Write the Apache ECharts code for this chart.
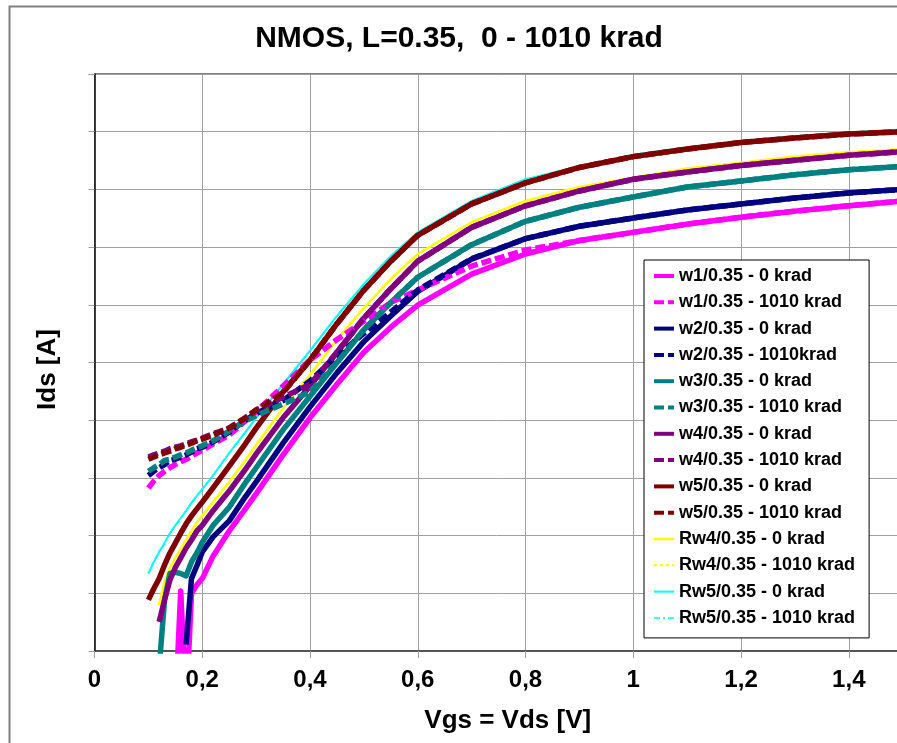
<!DOCTYPE html>
<html>
<head>
<meta charset="utf-8">
<title>NMOS, L=0.35, 0 - 1010 krad</title>
<script src="https://cdn.jsdelivr.net/npm/echarts@6/dist/echarts.min.js"></script>
<style>
  html, body { margin: 0; padding: 0; background: #fff; }
  #chart { width: 897px; height: 743px; }
</style>
</head>
<body>
<div id="chart"></div>
<script>
// Vgs = Vds sweep [V]
const vgs = [0.10, 0.11, 0.12, 0.13, 0.14, 0.15, 0.16, 0.17, 0.18, 0.19, 0.20, 0.22, 0.25, 0.28, 0.30,
  0.35, 0.40, 0.45, 0.50, 0.55, 0.60, 0.70, 0.80, 0.90, 1.00, 1.10, 1.20, 1.30, 1.40, 1.50];

// Ids [A] (values below 1e-13 drop out of the frame)
const w1Pre = [null, null, null, null, null, 1.0e-14, 1.1e-12, 1.0e-14, 1.0e-12, 1.4e-12, 1.8e-12, 4.4e-12, 1.2e-11, 2.9e-11, 5.3e-11,
  2.5e-10, 1.1e-9, 4.2e-9, 1.5e-8, 4.1e-8, 9.9e-8, 3.4e-7, 7.6e-7, 1.3e-6, 1.8e-6, 2.5e-6, 3.3e-6, 4.2e-6, 5.2e-6, 6.3e-6];
const w1Post = [6.7e-11, 8.8e-11, 1.1e-10, 1.3e-10, 1.5e-10, 1.7e-10, 1.9e-10, 2.1e-10, 2.4e-10, 2.7e-10, 3.0e-10, 3.9e-10, 5.5e-10, 9.7e-10, 1.4e-9,
  3.9e-9, 1.1e-8, 2.5e-8, 5.2e-8, 1.1e-7, 1.8e-7, 4.7e-7, 8.9e-7, 1.3e-6, 1.8e-6, 2.5e-6, 3.3e-6, 4.2e-6, 5.2e-6, 6.3e-6];
const w2Pre = [null, null, null, null, null, null, null, 1.3e-13, 1.8e-12, 3.0e-12, 5.2e-12, 9.5e-12, 1.8e-11, 4.7e-11, 8.5e-11,
  4.0e-10, 1.7e-9, 6.6e-9, 2.3e-8, 6.4e-8, 1.7e-7, 6.2e-7, 1.4e-6, 2.3e-6, 3.2e-6, 4.4e-6, 5.6e-6, 7.1e-6, 8.7e-6, 1.0e-5];
const w2Post = [1.1e-10, 1.3e-10, 1.5e-10, 1.7e-10, 2.0e-10, 2.1e-10, 2.3e-10, 2.5e-10, 2.8e-10, 3.2e-10, 3.4e-10, 4.2e-10, 6.2e-10, 1.0e-9, 1.3e-9,
  2.2e-9, 4.8e-9, 1.3e-8, 3.2e-8, 7.5e-8, 1.8e-7, 6.3e-7, 1.4e-6, 2.3e-6, 3.2e-6, 4.4e-6, 5.6e-6, 7.1e-6, 8.7e-6, 1.0e-5];
const w3Pre = [null, null, 5.0e-14, 7.7e-13, 2.2e-12, 2.3e-12, 2.2e-12, 2.0e-12, 3.5e-12, 5.0e-12, 7.7e-12, 1.5e-11, 3.1e-11, 8.2e-11, 1.5e-10,
  6.8e-10, 2.6e-9, 1.0e-8, 3.7e-8, 1.1e-7, 3.0e-7, 1.1e-6, 2.8e-6, 4.9e-6, 7.4e-6, 1.1e-5, 1.4e-5, 1.8e-5, 2.2e-5, 2.5e-5];
const w3Post = [1.3e-10, 1.5e-10, 1.7e-10, 2.0e-10, 2.1e-10, 2.3e-10, 2.5e-10, 2.7e-10, 3.0e-10, 3.3e-10, 3.6e-10, 4.4e-10, 6.5e-10, 9.7e-10, 1.2e-9,
  1.9e-9, 3.1e-9, 1.0e-8, 3.7e-8, 1.1e-7, 3.0e-7, 1.1e-6, 2.8e-6, 4.9e-6, 7.4e-6, 1.1e-5, 1.4e-5, 1.8e-5, 2.2e-5, 2.5e-5];
const w4Pre = [null, null, 3.2e-13, 7.7e-13, 1.7e-12, 2.8e-12, 4.1e-12, 6.1e-12, 8.4e-12, 1.2e-11, 1.5e-11, 2.7e-11, 5.9e-11, 1.4e-10, 2.6e-10,
  1.1e-9, 3.9e-9, 1.5e-8, 5.9e-8, 1.9e-7, 5.7e-7, 2.2e-6, 5.2e-6, 9.4e-6, 1.5e-5, 2.0e-5, 2.6e-5, 3.2e-5, 3.9e-5, 4.5e-5];
const w4Post = [2.3e-10, 2.5e-10, 2.7e-10, 2.9e-10, 3.2e-10, 3.4e-10, 3.6e-10, 3.9e-10, 4.2e-10, 4.5e-10, 4.9e-10, 5.8e-10, 7.3e-10, 1.1e-9, 1.5e-9,
  2.5e-9, 4.2e-9, 1.5e-8, 5.9e-8, 1.9e-7, 5.7e-7, 2.2e-6, 5.2e-6, 9.4e-6, 1.5e-5, 2.0e-5, 2.6e-5, 3.2e-5, 3.9e-5, 4.5e-5];
const w5Pre = [7.7e-13, 1.2e-12, 1.8e-12, 3.1e-12, 5.0e-12, 7.4e-12, 1.1e-11, 1.6e-11, 2.2e-11, 2.9e-11, 3.8e-11, 6.7e-11, 1.6e-10, 3.9e-10, 7.3e-10,
  3.1e-9, 1.1e-8, 4.7e-8, 1.8e-7, 5.7e-7, 1.6e-6, 5.6e-6, 1.3e-5, 2.4e-5, 3.7e-5, 5.0e-5, 6.5e-5, 7.8e-5, 9.1e-5, 1.0e-4];
const w5Post = [2.1e-10, 2.3e-10, 2.5e-10, 2.7e-10, 2.9e-10, 3.2e-10, 3.4e-10, 3.7e-10, 4.0e-10, 4.4e-10, 4.7e-10, 5.5e-10, 7.3e-10, 1.1e-9, 1.5e-9,
  3.0e-9, 1.1e-8, 4.7e-8, 1.8e-7, 5.7e-7, 1.6e-6, 5.6e-6, 1.3e-5, 2.4e-5, 3.7e-5, 5.0e-5, 6.5e-5, 7.8e-5, 9.1e-5, 1.0e-4];
const rw4Pre = [null, null, 6.3e-13, 1.6e-12, 2.8e-12, 4.1e-12, 5.9e-12, 8.4e-12, 1.2e-11, 1.7e-11, 2.2e-11, 3.8e-11, 8.5e-11, 2.0e-10, 3.7e-10,
  1.6e-9, 6.1e-9, 2.5e-8, 8.8e-8, 2.8e-7, 7.6e-7, 2.7e-6, 6.3e-6, 1.1e-5, 1.6e-5, 2.3e-5, 2.9e-5, 3.7e-5, 4.4e-5, 5.0e-5];
const rw4Post = [null, null, 6.3e-13, 1.6e-12, 2.8e-12, 4.1e-12, 5.9e-12, 8.4e-12, 1.2e-11, 1.7e-11, 2.2e-11, 3.8e-11, 8.5e-11, 2.0e-10, 3.7e-10,
  1.6e-9, 6.1e-9, 2.5e-8, 8.8e-8, 2.8e-7, 7.6e-7, 2.7e-6, 6.3e-6, 1.1e-5, 1.6e-5, 2.3e-5, 2.9e-5, 3.7e-5, 4.4e-5, 5.0e-5];
const rw5Pre = [2.2e-12, 3.5e-12, 5.2e-12, 7.4e-12, 1.1e-11, 1.5e-11, 2.0e-11, 2.7e-11, 3.7e-11, 4.9e-11, 6.4e-11, 1.1e-10, 2.7e-10, 6.2e-10, 1.1e-9,
  4.2e-9, 1.6e-8, 6.4e-8, 2.3e-7, 7.0e-7, 1.8e-6, 6.3e-6, 1.5e-5, 2.5e-5, 4.0e-5, 5.3e-5, 6.9e-5, 8.3e-5, 9.7e-5, 1.1e-4];
const rw5Post = [2.2e-12, 3.5e-12, 5.2e-12, 7.4e-12, 1.1e-11, 1.5e-11, 2.0e-11, 2.7e-11, 3.7e-11, 4.9e-11, 6.4e-11, 1.1e-10, 2.7e-10, 6.2e-10, 1.1e-9,
  4.2e-9, 1.6e-8, 6.4e-8, 2.3e-7, 7.0e-7, 1.8e-6, 6.3e-6, 1.5e-5, 2.5e-5, 4.0e-5, 5.3e-5, 6.9e-5, 8.3e-5, 9.7e-5, 1.1e-4];

const xTicks = [0, 0.2, 0.4, 0.6, 0.8, 1, 1.2, 1.4];

const font = 'Liberation Sans, Arial, Helvetica, sans-serif';
const dash = [10, 4];

const seriesDefs = [
  { name: 'w1/0.35 - 0 krad', data: w1Pre, color: '#ff00ff', width: 5.5, type: 'solid', z: 2 },
  { name: 'w1/0.35 - 1010 krad', data: w1Post, color: '#ff00ff', width: 5.5, type: dash, z: 3 },
  { name: 'w2/0.35 - 0 krad', data: w2Pre, color: '#000080', width: 5.5, type: 'solid', z: 2 },
  { name: 'w2/0.35 - 1010krad', data: w2Post, color: '#000080', width: 5.5, type: dash, z: 3 },
  { name: 'w3/0.35 - 0 krad', data: w3Pre, color: '#008080', width: 5.5, type: 'solid', z: 2 },
  { name: 'w3/0.35 - 1010 krad', data: w3Post, color: '#008080', width: 5.5, type: dash, z: 3 },
  { name: 'w4/0.35 - 0 krad', data: w4Pre, color: '#800080', width: 5.5, type: 'solid', z: 2 },
  { name: 'w4/0.35 - 1010 krad', data: w4Post, color: '#800080', width: 5.5, type: dash, z: 3 },
  { name: 'w5/0.35 - 0 krad', data: w5Pre, color: '#800000', width: 5.5, type: 'solid', z: 2 },
  { name: 'w5/0.35 - 1010 krad', data: w5Post, color: '#800000', width: 5.5, type: dash, z: 3 },
  { name: 'Rw4/0.35 - 0 krad', data: rw4Pre, color: '#ffff00', width: 2.5, type: 'solid', z: 1 },
  { name: 'Rw4/0.35 - 1010 krad', data: rw4Post, color: '#ffff00', width: 2, type: [3, 3], z: 1 },
  { name: 'Rw5/0.35 - 0 krad', data: rw5Pre, color: '#00ffff', width: 2, type: 'solid', z: 1 },
  { name: 'Rw5/0.35 - 1010 krad', data: rw5Post, color: '#00ffff', width: 1.5, type: [6, 3, 2, 3], z: 1 },
];

const chart = echarts.init(document.getElementById('chart'), null, { renderer: 'canvas' });

const option = {
  animation: false,
  backgroundColor: '#fff',
  textStyle: { fontFamily: font },
  title: {
    text: 'NMOS, L=0.35,  0 - 1010 krad',
    left: 459,
    top: 24,
    padding: 0,
    textAlign: 'center',
    textStyle: { fontSize: 30, fontWeight: 'bold', fontFamily: font, color: '#000' },
  },
  graphic: [
    {
      type: 'rect',
      left: 7,
      top: 4,
      silent: true,
      z: -10,
      shape: { width: 1000, height: 1000 },
      style: { fill: 'none', stroke: '#808080', lineWidth: 2 },
    },
  ],
  grid: {
    left: 94.5,
    top: 74,
    bottom: 92,
    right: -24,
    show: true,
    borderColor: '#000',
    borderWidth: 1,
    outerBoundsMode: 'none',
  },
  legend: {
    orient: 'vertical',
    left: 644,
    top: 260,
    itemWidth: 20,
    itemHeight: 14,
    itemGap: 8.3,
    padding: [7, 14, 11, 8],
    backgroundColor: '#fff',
    borderColor: '#000',
    borderWidth: 1,
    selectedMode: false,
    itemStyle: { opacity: 0 },
    textStyle: { fontSize: 18, fontWeight: 'bold', fontFamily: font, color: '#000' },
    data: seriesDefs.map((d) => ({
      name: d.name,
      lineStyle: { width: d.width > 3 ? 4 : d.width, opacity: 1 },
    })),
  },
  xAxis: {
    type: 'value',
    min: 0,
    max: 1.534,
    interval: 0.2,
    name: 'Vgs = Vds [V]',
    nameLocation: 'middle',
    nameGap: 57,
    nameTextStyle: { fontSize: 26, fontWeight: 'bold', fontFamily: font, color: '#000' },
    axisLine: { show: true, onZero: false, lineStyle: { color: '#404040', width: 1.5 } },
    axisTick: { show: true, length: 7, lineStyle: { color: '#a0a0a0' } },
    splitLine: { show: true, lineStyle: { color: '#a0a0a0', width: 1 } },
    axisLabel: {
      margin: 17,
      showMaxLabel: false,
      fontSize: 24,
      fontWeight: 'bold',
      fontFamily: font,
      color: '#000',
      formatter: (v) => (xTicks.indexOf(+v.toFixed(1)) > -1 ? String(+v.toFixed(1)).replace('.', ',') : ''),
    },
  },
  yAxis: {
    type: 'log',
    logBase: 10,
    min: 1e-13,
    max: 1e-3,
    splitNumber: 10,
    name: 'Ids [A]',
    nameLocation: 'middle',
    nameGap: 34,
    nameTextStyle: { fontSize: 26, fontWeight: 'bold', fontFamily: font, color: '#000', padding: [0, 0, 0, -14] },
    axisLine: { show: true, lineStyle: { color: '#000', width: 1.5 } },
    axisTick: { show: true, length: 6, lineStyle: { color: '#a0a0a0' } },
    splitLine: { show: true, lineStyle: { color: '#a0a0a0', width: 1 } },
    minorTick: { show: false },
    axisLabel: { show: false },
  },
  series: seriesDefs.map((d) => ({
    name: d.name,
    type: 'line',
    symbol: 'none',
    showSymbol: false,
    z: d.z,
    color: d.color,
    lineStyle: { color: d.color, width: d.width, type: d.type, cap: 'butt', join: 'round' },
    emphasis: { disabled: true },
    data: vgs.map((x, i) => [x, d.data[i]]),
  })),
};

chart.setOption(option);
</script>
</body>
</html>
